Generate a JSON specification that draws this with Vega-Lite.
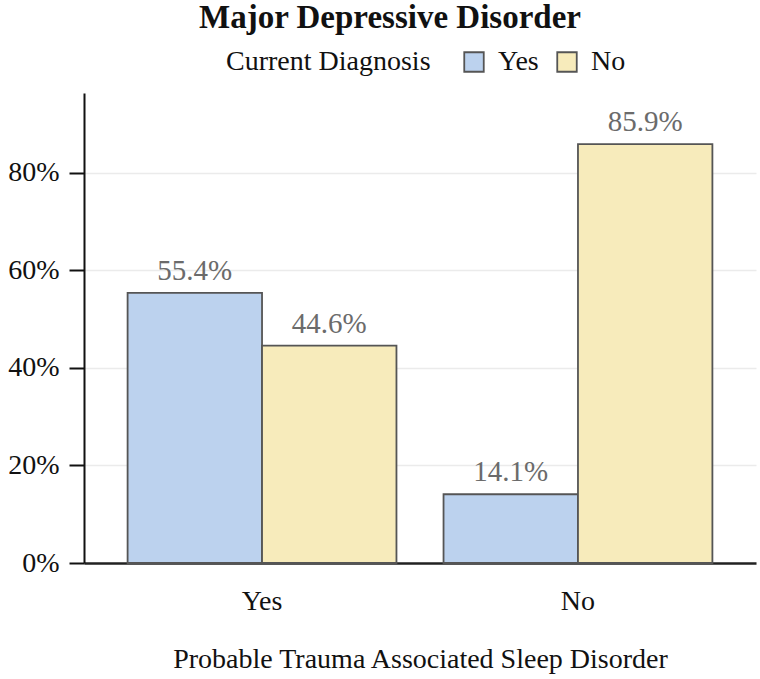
{
  "$schema": "https://vega.github.io/schema/vega-lite/v6.json",
  "width": 672,
  "height": 470,
  "padding": {"left": 84, "top": 93, "right": 4, "bottom": 116},
  "autosize": {"type": "none"},
  "background": "white",
  "config": {
    "font": "Liberation Serif",
    "view": {"stroke": null}
  },
  "title": {
    "text": "Major Depressive Disorder",
    "font": "Liberation Serif",
    "fontSize": 33,
    "fontWeight": "bold",
    "color": "#111",
    "anchor": "middle",
    "frame": "group",
    "baseline": "alphabetic",
    "dx": -30,
    "offset": 16,
    "dy": 29
  },
  "data": {
    "values": [
      {"ptasd": "Yes", "dx": "Yes", "pct": 0.554},
      {"ptasd": "Yes", "dx": "No", "pct": 0.446},
      {"ptasd": "No", "dx": "Yes", "pct": 0.141},
      {"ptasd": "No", "dx": "No", "pct": 0.859}
    ]
  },
  "encoding": {
    "x": {
      "field": "ptasd",
      "type": "nominal",
      "sort": ["Yes", "No"],
      "scale": {"paddingInner": 0.149, "paddingOuter": 0.138},
      "axis": {
        "title": "Probable Trauma Associated Sleep Disorder",
        "titleFont": "Liberation Serif",
        "titleFontSize": 28,
        "titleFontWeight": "normal",
        "titleColor": "#111",
        "titlePadding": 30,
        "labelFont": "Liberation Serif",
        "labelFontSize": 28,
        "labelColor": "#111",
        "labelAngle": 0,
        "labelPadding": 24,
        "ticks": false,
        "domainColor": "#222",
        "domainWidth": 2.5
      }
    },
    "xOffset": {"field": "dx", "type": "nominal", "sort": ["Yes", "No"]},
    "y": {
      "field": "pct",
      "type": "quantitative",
      "scale": {"domain": [0, 0.964], "nice": false},
      "axis": {
        "title": null,
        "format": ".0%",
        "values": [0, 0.2, 0.4, 0.6, 0.8],
        "labelFont": "Liberation Serif",
        "labelFontSize": 28,
        "labelColor": "#111",
        "labelPadding": 10,
        "tickSize": 15,
        "tickColor": "#111",
        "tickWidth": 2,
        "domainColor": "#111",
        "domainWidth": 2,
        "gridColor": "#ebebeb",
        "gridWidth": 1.5
      }
    }
  },
  "layer": [
    {
      "mark": {"type": "bar", "stroke": "#555555", "strokeWidth": 1.8, "opacity": 1},
      "encoding": {
        "color": {
          "field": "dx",
          "type": "nominal",
          "sort": ["Yes", "No"],
          "scale": {"domain": ["Yes", "No"], "range": ["#bcd2ee", "#f7ebbb"]},
          "legend": {
            "title": "Current Diagnosis",
            "orient": "none",
            "direction": "horizontal",
            "titleOrient": "left",
            "titleLimit": 400,
            "legendX": 142,
            "legendY": -45,
            "titleFont": "Liberation Serif",
            "titleFontSize": 28,
            "titleFontWeight": "normal",
            "titleColor": "#111",
            "titlePadding": 29,
            "titleBaseline": "middle",
            "labelFont": "Liberation Serif",
            "labelFontSize": 28,
            "labelColor": "#111",
            "labelOffset": 10,
            "symbolType": "square",
            "symbolSize": 380,
            "symbolStrokeColor": "#555555",
            "symbolStrokeWidth": 1.8,
            "symbolOpacity": 1,
            "columnPadding": 14
          }
        }
      }
    },
    {
      "mark": {"type": "text", "baseline": "alphabetic", "dy": -13, "fontSize": 29, "font": "Liberation Serif", "color": "#6b6b6b"},
      "encoding": {
        "text": {"field": "pct", "type": "quantitative", "format": ".1%"}
      }
    }
  ]
}
